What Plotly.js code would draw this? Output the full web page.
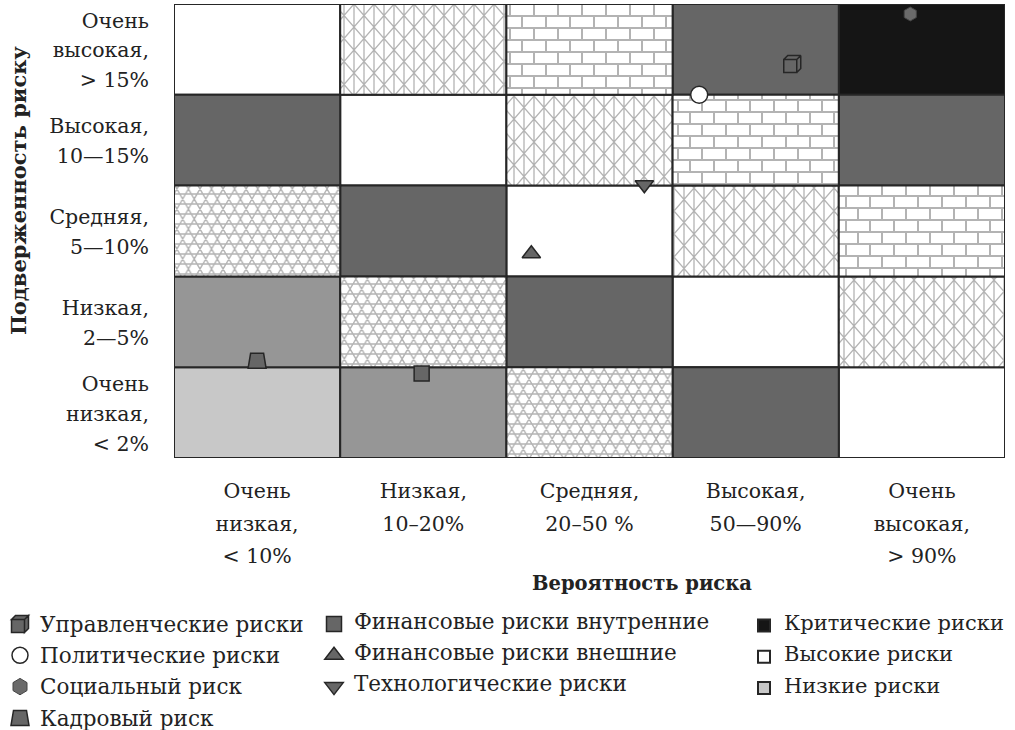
<!DOCTYPE html>
<html>
<head>
<meta charset="utf-8">
<script src="https://cdn.plot.ly/plotly-3.0.1.min.js"></script>
<style>html,body{margin:0;padding:0;background:#fff;}</style>
</head>
<body>
<svg width="0" height="0" style="position:absolute">
  <defs>
    <pattern id="patS" patternUnits="userSpaceOnUse" width="20" height="23">
      <rect width="20" height="23" fill="#ffffff"/>
      <path d="M0,0L20,23M20,0L0,23M0,0V23M20,0V23M10,0V23" stroke="#b3b3b3" stroke-width="1.3" fill="none"/>
    </pattern>
    <pattern id="patB" patternUnits="userSpaceOnUse" width="24" height="24">
      <rect width="24" height="24" fill="#ffffff"/>
      <path d="M0,0H24M0,12H24M0,24H24M0,0V12M24,0V12M12,12V24" stroke="#b3b3b3" stroke-width="2" fill="none"/>
    </pattern>
    <pattern id="patC" patternUnits="userSpaceOnUse" width="23.094" height="20">
      <rect width="23.094" height="20" fill="#ffffff"/>
      <path d="M-1,0H25M-1,10H25M-1,20H25M0,0L11.547,20M11.547,0L23.094,20M-11.547,0L0,20M23.094,0L34.641,20M5.773,0L-5.773,20M17.32,0L5.773,20M28.867,0L17.32,20" stroke="#b3b3b3" stroke-width="1.4" fill="none"/>
    </pattern>
  </defs>
</svg>
<div id="chart" style="width:1015px;height:730px"></div>
<script>
const FONT = '"DejaVu Serif", "Liberation Serif", serif';

// ---- data ----
const probLabels = [
  ['Очень', 'низкая,', '< 10%'],
  ['Низкая,', '10–20%'],
  ['Средняя,', '20–50 %'],
  ['Высокая,', '50—90%'],
  ['Очень', 'высокая,', '> 90%']
];
// bottom to top
const exposureLabels = [
  ['Очень', 'низкая,', '< 2%'],
  ['Низкая,', '2—5%'],
  ['Средняя,', '5—10%'],
  ['Высокая,', '10—15%'],
  ['Очень', 'высокая,', '> 15%']
];
// zone class of every cell, rows bottom to top, columns left to right
const riskMatrix = [
  ['L', 'M', 'C', 'D', 'W'],
  ['M', 'C', 'D', 'W', 'S'],
  ['C', 'D', 'W', 'S', 'B'],
  ['D', 'W', 'S', 'B', 'D'],
  ['W', 'S', 'B', 'D', 'K']
];
const zoneCodes = ['K', 'W', 'L', 'D', 'M', 'S', 'B', 'C'];
const zoneNames = ['Критические риски', 'Высокие риски', 'Низкие риски',
  'Значительные риски', 'Умеренные риски', 'Зона S', 'Зона B', 'Зона C'];

const riskNames = ['Управленческие риски', 'Политические риски', 'Социальный риск', 'Кадровый риск',
  'Финансовые риски внутренние', 'Финансовые риски внешние', 'Технологические риски'];
// position in probability / exposure units (one unit per class)
const riskProb = [3.72, 3.16, 4.43, 0.50, 1.49, 2.15, 2.83];
const riskExposure = [4.34, 4.00, 4.89, 1.07, 0.93, 2.25, 3.01];

// ---- styles ----
const zoneStyle = {
  K: {color: '#151515', legend: true},
  W: {color: '#ffffff', legend: true},
  L: {color: '#c8c8c8', legend: true},
  D: {color: '#666666'},
  M: {color: '#969696'},
  S: {color: '#ffffff', pattern: 'patS'},
  B: {color: '#ffffff', pattern: 'patB'},
  C: {color: '#ffffff', pattern: 'patC'}
};
const riskStyle = [
  {symbol: 'square', size: 14, color: '#666666', custom: 'cube', legend: 'legend'},
  {symbol: 'circle', size: 17, color: '#ffffff', legend: 'legend'},
  {symbol: 'hexagon', size: 14, color: '#6a6a6a', lineColor: '#444', lineWidth: 1, legend: 'legend', legendCustom: 'hex'},
  {symbol: 'square', size: 14, color: '#666666', custom: 'trap', legend: 'legend'},
  {symbol: 'square', size: 15, color: '#666666', legend: 'legend2'},
  {symbol: 'triangle-up', size: 16, color: '#666666', legend: 'legend2'},
  {symbol: 'triangle-down', size: 16, color: '#666666', legend: 'legend2'}
];
const customPaths = {
  cube: 'M-8.5,-4.5H4.5V8.5H-8.5ZM-8.5,-4.5L-4.5,-8.5H8.5L4.5,-4.5ZM4.5,-4.5L8.5,-8.5V4.5L4.5,8.5Z',
  trap: 'M-9,7.5L-6.5,-7.5H6.5L9,7.5Z',
  hex: 'M7,-4V4L0,8.2L-7,4V-4L0,-8.2Z',
  swatch: 'M8,8H-8V-8H8Z'
};
const LEGEND_PX = 21.5;
// first entry of the 4-row legend -> where it should land: text left edge, symbol centre y
const legendTarget = [
  {name: riskNames[0], x: 40, y: 624}
];

function esc(s) { return s.replace(/</g, '&lt;').replace(/>/g, '&gt;'); }
function sized(s, px) { return '<span style="font-size:' + px + 'px">' + esc(s) + '</span>'; }
function stack(lines, px) { return lines.map(l => sized(l, px)).join('<br>'); }

const traces = [];
// zone cells
zoneCodes.forEach((code, zi) => {
  const xs = [], bases = [], hs = [];
  riskMatrix.forEach((row, r) => row.forEach((c, k) => {
    if (c === code) { xs.push(k + 0.5); bases.push(r); hs.push(1); }
  }));
  const st = zoneStyle[code];
  traces.push({
    type: 'bar', name: sized(zoneNames[zi], 21), x: xs, y: hs, base: bases, width: 1,
    marker: {color: st.color, line: {color: '#262626', width: 2}},
    showlegend: !!st.legend, legend: 'legend3', legendgroup: 'z' + code,
    cliponaxis: false, hoverinfo: 'skip', meta: st.pattern || ''
  });
});
// risks
riskNames.forEach((nm, i) => {
  const st = riskStyle[i];
  traces.push({
    type: 'scatter', mode: 'markers', name: sized(nm, LEGEND_PX),
    x: [riskProb[i]], y: [riskExposure[i]],
    marker: {symbol: st.symbol, size: st.size, color: st.color,
      line: {color: st.lineColor || '#262626', width: st.lineWidth != null ? st.lineWidth : 1.5}},
    legend: st.legend, legendgroup: 'r' + i, cliponaxis: false, meta: st.custom || ''
  });
});

// legend rows about 31 px apart: item height 19 px + gap 12.3 px
const legendBase = {
  yanchor: 'top', xanchor: 'left',
  font: {family: FONT, size: 12, color: '#222'},
  bgcolor: 'rgba(0,0,0,0)', traceorder: 'grouped', tracegroupgap: 12.3
};

const layout = {
  width: 1015, height: 730,
  margin: {l: 174, r: 10, t: 4, b: 272, pad: 0},
  paper_bgcolor: '#ffffff', plot_bgcolor: '#ffffff',
  barmode: 'overlay', showlegend: true, hovermode: false,
  xaxis: {
    range: [0, 5], tickvals: probLabels.map((_, i) => i + 0.5),
    ticktext: probLabels.map(l => stack(l, 20.5)), tickangle: 0,
    tickfont: {family: FONT, size: 25, color: '#222'},
    showgrid: false, zeroline: false, showline: false, ticks: '', fixedrange: true,
    ticklabelstandoff: 14
  },
  yaxis: {
    range: [0, 5], tickvals: exposureLabels.map((_, i) => i + 0.5),
    ticktext: exposureLabels.map(l => stack(l, 20.5)),
    tickfont: {family: FONT, size: 23, color: '#222'},
    showgrid: false, zeroline: false, showline: false, ticks: '', fixedrange: true,
    ticklabelstandoff: 24
  },
  legend: Object.assign({}, legendBase, {x: (8 - 174) / 831, y: (458 - 592) / 454}),
  legend2: Object.assign({}, legendBase, {x: (314 - 174) / 831, y: (458 - 609.5) / 454}),
  legend3: Object.assign({}, legendBase, {x: (744 - 174) / 831, y: (458 - 611) / 454}),
  annotations: [
    {text: 'Вероятность риска', xref: 'paper', yref: 'paper', x: (642 - 174) / 831, y: (458 - 583) / 454,
      xanchor: 'center', yanchor: 'middle', showarrow: false,
      font: {family: FONT, size: 19.5, color: '#222', weight: 'bold'}},
    {text: 'Подверженность риску', xref: 'paper', yref: 'paper', x: (18 - 174) / 831, y: (458 - 191) / 454,
      xanchor: 'center', yanchor: 'middle', showarrow: false, textangle: -90,
      font: {family: FONT, size: 21, color: '#222', weight: 'bold'}}
  ]
};

function plainText(el) { return (el && el.textContent || '').replace(/\s+/g, ' ').trim(); }

function finish(gd) {
  // patterned zones
  gd.querySelectorAll('.barlayer .trace').forEach(g => {
    const cd = g.__data__;
    const tr = cd && cd[0] && cd[0].trace;
    if (tr && tr.meta) {
      g.querySelectorAll('path').forEach(p => { p.style.fill = 'url(#' + tr.meta + ')'; });
    }
  });
  // custom marker shapes in the plot
  gd.querySelectorAll('.scatterlayer .trace').forEach(g => {
    const cd = g.__data__;
    const tr = cd && cd[0] && cd[0].trace;
    if (tr && tr.meta && customPaths[tr.meta]) {
      g.querySelectorAll('path.point').forEach(p => p.setAttribute('d', customPaths[tr.meta]));
    }
  });
  // legend symbols and text baseline
  const texts = Array.from(gd.querySelectorAll('text.legendtext'));
  texts.forEach(t => {
    t.setAttribute('transform', 'translate(0,3)');
    const item = t.parentNode;
    const name = plainText(t);
    const i = riskNames.indexOf(name);
    if (i >= 0) {
      const key = riskStyle[i].custom || riskStyle[i].legendCustom;
      if (key) item.querySelectorAll('.legendpoints path').forEach(p => p.setAttribute('d', customPaths[key]));
    } else if (zoneNames.indexOf(name) >= 0) {
      item.querySelectorAll('.legendpoints path').forEach(p => p.setAttribute('d', customPaths.swatch));
    }
  });
  // move the 4-row legend block onto its target (kept inside the page in the layout so no margin is pushed)
  const box = gd.getBoundingClientRect();
  legendTarget.forEach(tg => {
    const t = texts.find(el => plainText(el) === tg.name);
    if (!t) return;
    const item = t.parentNode;
    const pts = item.querySelector('.legendpoints') || item;
    let root = item;
    while (root.parentNode && root.parentNode.classList && !root.parentNode.classList.contains('infolayer')) {
      root = root.parentNode;
    }
    if (!root.parentNode || !root.parentNode.classList) return;
    const tb = t.getBoundingClientRect();
    const pb = pts.getBoundingClientRect();
    const dx = tg.x - (tb.left - box.left), dy = tg.y - ((pb.top + pb.bottom) / 2 - box.top);
    if (!isFinite(dx) || !isFinite(dy)) return;
    const m = /translate\(\s*([-\d.e]+)(?:[ ,]+([-\d.e]+))?\s*\)/.exec(root.getAttribute('transform') || '');
    const x0 = m ? parseFloat(m[1]) : 0, y0 = m && m[2] ? parseFloat(m[2]) : 0;
    root.setAttribute('transform', 'translate(' + (x0 + dx) + ',' + (y0 + dy) + ')');
  });
}

Plotly.newPlot('chart', traces, layout, {staticPlot: true, displayModeBar: false}).then(gd => {
  finish(gd);
  gd.on('plotly_afterplot', () => finish(gd));
  setTimeout(() => finish(gd), 150);
  setTimeout(() => finish(gd), 600);
});
</script>
</body>
</html>
